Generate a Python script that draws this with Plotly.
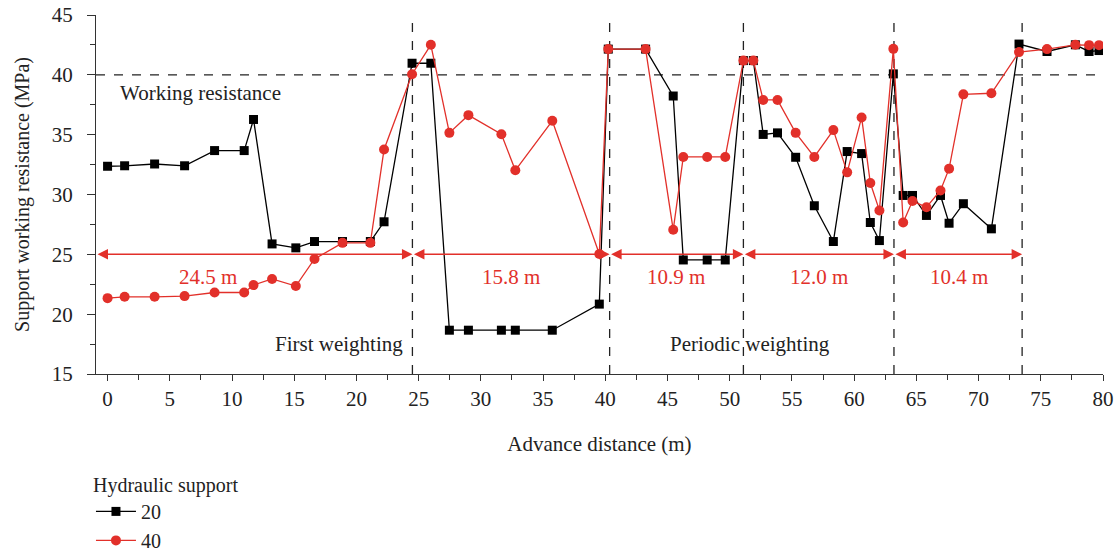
import plotly.graph_objects as go

# ---- data ----
advance_distance = [0, 1.37, 3.78, 6.19, 8.6, 10.98, 11.73, 13.22, 15.13, 16.63, 18.88, 21.12, 22.22, 24.47,
                    25.98, 27.47, 29.0, 31.65, 32.77, 35.74, 39.52,
                    40.24, 43.24, 45.46, 46.27, 48.19, 49.64,
                    51.1, 51.9,
                    52.69, 53.84, 55.3, 56.8, 58.33, 59.44, 60.6, 61.3, 62.03,
                    63.15,
                    63.94, 64.69, 65.81, 66.94, 67.63, 68.78, 71.03,
                    73.25, 75.5, 77.78, 78.88, 79.68]
support_20 = [32.36, 32.4, 32.55, 32.4, 33.67, 33.67, 36.27, 25.87, 25.54, 26.07, 26.07, 26.07, 27.72, 40.97,
              40.97, 18.66, 18.66, 18.66, 18.66, 18.66, 20.84,
              42.15, 42.15, 38.23, 24.53, 24.53, 24.53,
              41.19, 41.19,
              35.02, 35.15, 33.11, 29.06, 26.07, 33.59, 33.42, 27.66, 26.15,
              40.08,
              29.92, 29.92, 28.25, 29.92, 27.6, 29.23, 27.13,
              42.57, 41.95, 42.51, 41.95, 42.03]
support_40 = [21.34, 21.45, 21.45, 21.51, 21.81, 21.81, 22.43, 22.94, 22.35, 24.61, 25.96, 25.96, 33.76, 40.05,
              42.51, 35.15, 36.63, 35.04, 32.02, 36.16, 25.03,
              42.15, 42.15, 27.05, 33.14, 33.14, 33.14,
              41.19, 41.19,
              37.9, 37.9, 35.15, 33.14, 35.38, 31.85, 36.44, 30.96, 28.67,
              42.17,
              27.66, 29.45, 28.94, 30.34, 32.16, 38.37, 38.46,
              41.9, 42.15, 42.51, 42.48, 42.48]

boundaries = [24.5, 40.35, 51.1, 63.2, 73.5]
segment_labels = ["24.5 m", "15.8 m", "10.9 m", "12.0 m", "10.4 m"]
segment_label_x = [8.1, 32.4, 45.7, 57.2, 68.4]
working_resistance = 40
arrow_level = 25
x_tick_vals = list(range(0, 81, 5))
y_tick_vals = list(range(15, 46, 5))

X_MIN, X_MAX = -0.93, 80
Y_MIN, Y_MAX = 15, 45

RED = "#E2302A"
FONT = "Liberation Serif"
TXT = "#222222"
FS = 21

fig = go.Figure()
fig.add_trace(go.Scatter(x=advance_distance, y=support_20, name="20", mode="lines+markers",
                         line=dict(color="black", width=1.3),
                         marker=dict(symbol="square", size=9, color="black")))
fig.add_trace(go.Scatter(x=advance_distance, y=support_40, name="40", mode="lines+markers",
                         line=dict(color=RED, width=1.3),
                         marker=dict(symbol="circle", size=10, color=RED)))

shapes = []
shapes.append(dict(type="line", xref="x", yref="y", x0=X_MIN, x1=X_MAX,
                   y0=working_resistance, y1=working_resistance,
                   line=dict(color="#222", width=1.3, dash="dash"), layer="below"))
for b in boundaries:
    shapes.append(dict(type="line", xref="x", yref="y", x0=b, x1=b, y0=Y_MIN, y1=44.5,
                       line=dict(color="#222", width=1.3, dash="dash"), layer="below"))

annotations = []
starts = [X_MIN] + boundaries[:-1]
for s, e in zip(starts, boundaries):
    annotations.append(dict(x=e, y=arrow_level, ax=s, ay=arrow_level, xref="x", yref="y",
                            axref="x", ayref="y", showarrow=True, arrowside="end+start",
                            arrowhead=2, arrowsize=1.4, arrowwidth=1.5, arrowcolor=RED,
                            standoff=0, startstandoff=0, text=""))
for lab, lx in zip(segment_labels, segment_label_x):
    annotations.append(dict(x=lx, y=23.1, xref="x", yref="y", text=lab, showarrow=False,
                            font=dict(family=FONT, size=FS, color=RED)))
annotations.append(dict(x=0.86, y=38.45, xref="x", yref="y", text="Working resistance",
                        showarrow=False, xanchor="left", font=dict(family=FONT, size=FS, color=TXT)))
annotations.append(dict(x=23.9, y=17.5, xref="x", yref="y", text="First weighting",
                        showarrow=False, xanchor="right", font=dict(family=FONT, size=FS, color=TXT)))
annotations.append(dict(x=51.6, y=17.5, xref="x", yref="y", text="Periodic weighting",
                        showarrow=False, xanchor="center", font=dict(family=FONT, size=FS, color=TXT)))

fig.update_layout(
    width=1119, height=554,
    margin=dict(l=96, r=16, t=15, b=180, autoexpand=False),
    paper_bgcolor="white", plot_bgcolor="white",
    font=dict(family=FONT, size=FS, color=TXT),
    shapes=shapes, annotations=annotations,
    showlegend=True,
    legend=dict(title=dict(text="Hydraulic support", font=dict(family=FONT, size=20, color=TXT)),
                x=-0.005, y=-0.256, xanchor="left", yanchor="top", orientation="v",
                font=dict(family=FONT, size=20, color=TXT), bgcolor="rgba(0,0,0,0)",
                tracegroupgap=0, itemwidth=40),
    xaxis=dict(range=[X_MIN, X_MAX], tickvals=x_tick_vals, ticks="outside", ticklen=6,
               tickwidth=1.2, tickcolor="#333", showline=True, linecolor="#333", linewidth=1.3,
               showgrid=False, zeroline=False,
               minor=dict(dtick=2.5, tick0=0, ticks="outside", ticklen=5, tickcolor="#333", tickwidth=1.2),
               title=dict(text="Advance distance (m)", font=dict(family=FONT, size=FS, color=TXT), standoff=25),
               tickfont=dict(family=FONT, size=FS, color=TXT)),
    yaxis=dict(range=[Y_MIN, Y_MAX], tickvals=y_tick_vals, ticks="outside", ticklen=8,
               tickwidth=1.2, tickcolor="#333", showline=True, linecolor="#333", linewidth=1.3,
               showgrid=False, zeroline=False, ticklabelstandoff=10,
               minor=dict(dtick=2.5, tick0=0, ticks="outside", ticklen=5, tickcolor="#333", tickwidth=1.2),
               title=dict(text="Support working resistance (MPa)", font=dict(family=FONT, size=20, color=TXT), standoff=16),
               tickfont=dict(family=FONT, size=FS, color=TXT)),
)

fig.write_html("out.html")
